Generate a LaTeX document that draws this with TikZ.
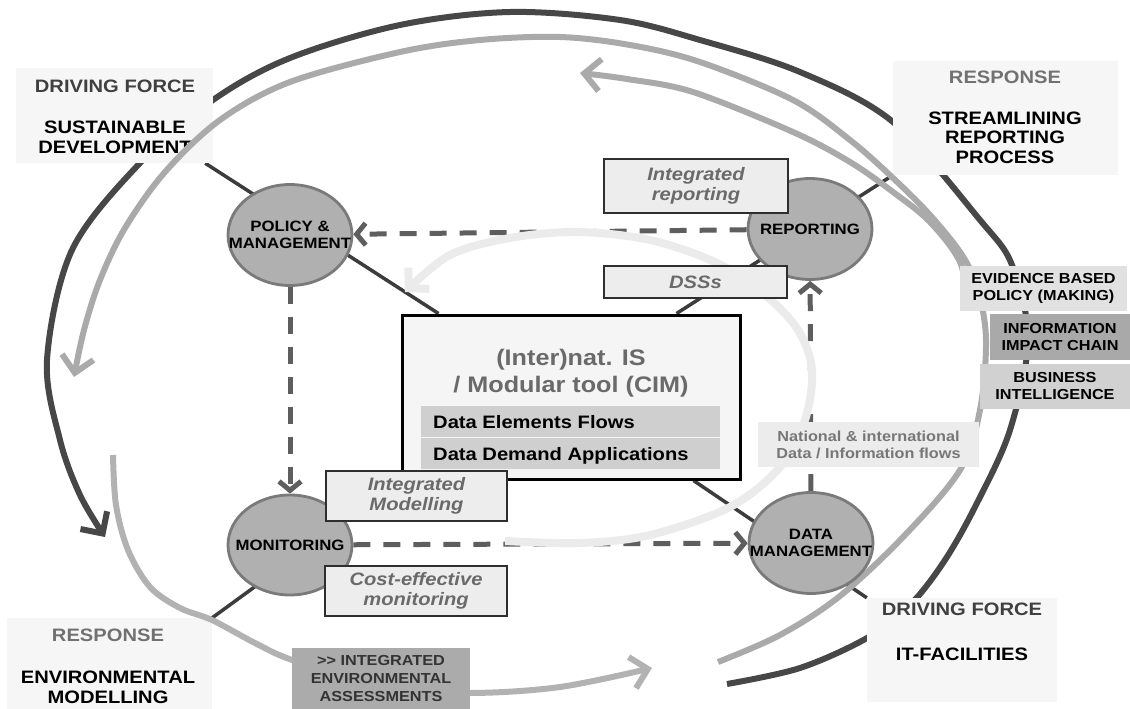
\documentclass[tikz,border=0pt]{standalone}
\usepackage{fontspec}
\setmainfont{Liberation Sans}[FakeStretch=1.12]
\usetikzlibrary{shapes.geometric,arrows.meta,calc}
\definecolor{darkarc}{HTML}{474747}
\definecolor{lightarc}{HTML}{AAAAAA}
\definecolor{palearc}{HTML}{EBEBEB}
\definecolor{dashc}{HTML}{5E5E5E}
\definecolor{connc}{HTML}{3C3C3C}
\definecolor{ellfill}{HTML}{B0B0B0}
\definecolor{elldraw}{HTML}{7A7A7A}
\definecolor{cornerfill}{HTML}{F6F6F6}
\definecolor{lblfill}{HTML}{EDEDED}
\definecolor{lbldraw}{HTML}{2E2E2E}
\definecolor{lbltext}{HTML}{6A6A6A}
\definecolor{cimfill}{HTML}{F5F5F5}
\definecolor{subfill}{HTML}{CFCFCF}
\definecolor{cimtext}{HTML}{6A6A6A}
\definecolor{dftext}{HTML}{404040}
\definecolor{resptext}{HTML}{717171}
\definecolor{evidfill}{HTML}{E1E1E1}
\definecolor{infofill}{HTML}{A9A9A9}
\definecolor{busfill}{HTML}{D1D1D1}
\definecolor{natfill}{HTML}{ECECEC}
\definecolor{nattext}{HTML}{777777}
\definecolor{iafill}{HTML}{ABABAB}
\definecolor{iatext}{HTML}{333333}
\pgfdeclarelayer{l0}\pgfdeclarelayer{l1}\pgfdeclarelayer{l2}
\pgfdeclarelayer{l3}\pgfdeclarelayer{l4}\pgfdeclarelayer{l5}
\pgfsetlayers{l0,l1,l2,l3,l4,l5,main}
\begin{document}
\begin{tikzpicture}[x=1pt,y=-1pt,
  corner/.style={rectangle,fill=cornerfill,inner sep=0pt},
  head/.style={inner sep=0pt,font=\fontsize{18}{20}\selectfont\bfseries},
  bigt/.style={inner sep=0pt,align=center,font=\fontsize{18}{20}\selectfont\bfseries},
  stage/.style={ellipse,fill=ellfill,draw=elldraw,line width=2.8pt,inner sep=0pt,minimum width=124pt,minimum height=101pt},
  stagetext/.style={inner sep=0pt,align=center,font=\fontsize{15}{17}\selectfont\bfseries},
  lbl/.style={rectangle,fill=lblfill,draw=lbldraw,line width=1.2pt,inner sep=0pt,align=center,text=lbltext,font=\fontsize{18}{20.5}\selectfont\bfseries\itshape},
  side/.style={rectangle,inner sep=0pt,align=center,font=\fontsize{14.5}{17}\selectfont\bfseries},
  subbox/.style={rectangle,fill=subfill,minimum width=299pt,minimum height=31pt,inner sep=0pt},
  subtext/.style={inner sep=0pt,anchor=west,text height=13pt,text depth=0pt,font=\fontsize{18}{20}\selectfont\bfseries},
  darkring/.style={draw=darkarc,line width=6pt},
  ring/.style={draw=lightarc,line width=6pt},
  pale/.style={draw=palearc,line width=8pt},
  conn/.style={draw=connc,line width=3.5pt},
  flow/.style={draw=dashc,line width=5pt,dash pattern=on 17pt off 13pt,-{Straight Barb[length=9pt,width=22pt]}},
  bigtip/.style={-{Straight Barb[length=16pt,width=32pt]}}
]
\useasboundingbox (0,0) rectangle (1130,709);

% ---------- corner boxes ----------
\begin{pgfonlayer}{l2}
\node[corner,minimum width=197pt,minimum height=95pt] (tl) at (114.5,115.5) {};
\node[head,text=dftext] (tlh) at (115,86) {DRIVING FORCE};
\node[bigt] (tlt) at (115,137) {SUSTAINABLE\\DEVELOPMENT};
\node[corner,minimum width=225pt,minimum height=114pt] (tr) at (1005.5,118) {};
\node[head,text=resptext] (trh) at (1005,77) {RESPONSE};
\node[bigt,font=\fontsize{18}{19.5}\selectfont\bfseries] (trt) at (1005,137.5) {STREAMLINING\\REPORTING\\PROCESS};
\node[corner,minimum width=205pt,minimum height=91pt] (bl) at (109.5,663.5) {};
\node[head,text=resptext] (blh) at (108,635) {RESPONSE};
\node[bigt] (blt) at (108,687) {ENVIRONMENTAL\\MODELLING};
\node[corner,minimum width=190pt,minimum height=104pt] (it) at (962,650) {};
\node[head,text=dftext] (ith) at (962,609) {DRIVING FORCE};
\node[head] (itt) at (962,654) {IT-FACILITIES};
\end{pgfonlayer}

% ---------- stages ----------
\node[stage] (pol) at (290,235) {};
\node[stage] (rep) at (810,229) {};
\node[stage,minimum height=100pt] (mon) at (290,545) {};
\node[stage] (dm) at (811,543) {};
\node[stagetext] (polt) at (pol) {POLICY \&\\MANAGEMENT};
\node[stagetext] (rept) at (rep) {REPORTING};
\node[stagetext] (mont) at (mon) {MONITORING};
\node[stagetext] (dmt) at (dm) {DATA\\MANAGEMENT};

% ---------- central box ----------
\node[rectangle,draw=black,line width=3pt,fill=cimfill,minimum width=338pt,minimum height=164pt,inner sep=0pt] (cim) at (571,397) {};
\node[inner sep=0pt,align=center,text=cimtext,font=\fontsize{22.5}{27}\selectfont\bfseries] (cimt) at (571,373) {(Inter)nat. IS\\/ Modular tool (CIM)};
\node[subbox] (sub1) at (570.5,421.5) {};
\node[subbox] (sub2) at (570.5,453.5) {};
\node[subtext] (sub1t) at (433,421.5) {Data Elements Flows};
\node[subtext] (sub2t) at (433,453.5) {Data Demand Applications};

% ---------- italic labels ----------
\node[lbl,minimum width=184pt,minimum height=54pt] (irep) at (696,186) {Integrated\\reporting};
\node[lbl,minimum width=183pt,minimum height=32pt] (dss) at (695.5,282) {DSSs};
\node[lbl,minimum width=181pt,minimum height=50pt] (imod) at (416.5,496) {Integrated\\Modelling};
\node[lbl,minimum width=182pt,minimum height=50pt] (cost) at (416,591) {Cost-effective\\monitoring};

% ---------- side labels ----------
\node[side,fill=evidfill,minimum width=167pt,minimum height=45pt] (evid) at (1043.5,288.5) {EVIDENCE BASED\\POLICY (MAKING)};
\node[side,fill=infofill,minimum width=140pt,minimum height=46pt] (info) at (1060,337) {INFORMATION\\IMPACT CHAIN};
\node[side,fill=busfill,minimum width=150pt,minimum height=45pt] (bus) at (1055,386.5) {BUSINESS\\INTELLIGENCE};
\node[side,fill=natfill,text=nattext,minimum width=221pt,minimum height=45pt] (nat) at (868.5,444.5) {National \& international\\Data / Information flows};
\node[side,fill=iafill,text=iatext,minimum width=178pt,minimum height=61pt,font=\fontsize{14.5}{18}\selectfont\bfseries] (ia) at (381,678.5) {>\kern0pt> INTEGRATED\\ENVIRONMENTAL\\ASSESSMENTS};

% ---------- outer dark cycle ----------
\begin{pgfonlayer}{l0}
\draw[darkring,bigtip] plot[smooth,tension=0.55] coordinates {(727,684) (800,668) (867,638) (910,605) (945,560) (977,503) (1010,430) (1028,340) (1012,265) (980,220) (893,122) (800,72) (700,40) (620,20) (510,12) (400,25) (290,58) (213,100) (140,163) (72,250) (47,360) (60,440) (80,495) (105,537)};
\end{pgfonlayer}

% ---------- solid connectors ----------
\begin{pgfonlayer}{l1}
\draw[conn] ($(tl.south east)+(-8,0)$) -- ($(cim.north west)+(38,0)$);
\draw[conn] (tr.south west) -- ($(cim.north east)+(-65,0)$);
\draw[conn] (bl.north east) -- (cim.south west);
\draw[conn] ($(cim.south east)+(-48,0)$) -- (it.north west);
\end{pgfonlayer}

% ---------- light cycles ----------
\begin{pgfonlayer}{l3}
\draw[ring,bigtip] plot[smooth,tension=0.55] coordinates {(718,662) (780,635) (840,596) (905,535) (960,470) (980,410) (986,340) (978,290) (962,255) (930,215) (893,178) (850,140) (793,100) (700,62) (630,45) (560,37) (480,40) (400,52) (290,82) (220,120) (165,172) (125,228) (100,280) (84,330) (74,377)};
\draw[ring,bigtip] plot[smooth,tension=0.55] coordinates {(968,305) (960,262) (930,222) (893,192) (850,162) (793,132) (693,92) (627,79) (580,73)};
\draw[ring,draw=lightarc!90!white,bigtip] plot[smooth,tension=0.55] coordinates {(113,455) (116,505) (128,550) (150,587) (180,608) (212,620) (255,643) (292,660) (380,688) (470,693) (560,687) (652,668)};
\end{pgfonlayer}

% ---------- dashed flows ----------
\begin{pgfonlayer}{l4}
\draw[flow] (rep) -- (pol);
\draw[flow] (pol) -- (mon);
\draw[flow] (mon) -- (dm);
\draw[flow] (dm) -- (rep);
\end{pgfonlayer}

% ---------- pale inner cycle ----------
\begin{pgfonlayer}{l5}
\draw[pale,-{Straight Barb[length=14pt,width=30pt]}] plot[smooth,tension=0.55] coordinates {(505,541) (580,543) (650,535) (730,507) (780,467) (805,420) (812,370) (798,330) (765,295) (717,263) (650,240) (577,232) (510,238) (450,255) (405,292)};
\end{pgfonlayer}
\end{tikzpicture}
\end{document}
